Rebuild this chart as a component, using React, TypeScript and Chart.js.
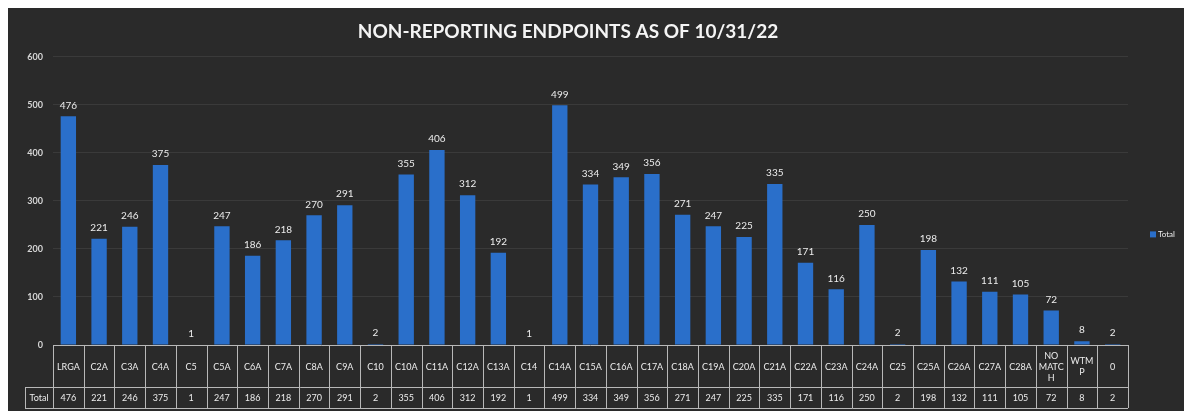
import React, { useEffect, useRef } from 'react';
import { Chart, registerables } from 'chart.js';

Chart.register(...registerables);

const chartTitle = 'NON-REPORTING ENDPOINTS AS OF 10/31/22';
const seriesName = 'Total';
const categories = [
  'LRGA', 'C2A', 'C3A', 'C4A', 'C5', 'C5A', 'C6A', 'C7A', 'C8A', 'C9A',
  'C10', 'C10A', 'C11A', 'C12A', 'C13A', 'C14', 'C14A', 'C15A', 'C16A', 'C17A',
  'C18A', 'C19A', 'C20A', 'C21A', 'C22A', 'C23A', 'C24A', 'C25', 'C25A', 'C26A',
  'C27A', 'C28A', 'NO MATCH', 'WTMP', '0',
];
const totals = [
  476, 221, 246, 375, 1, 247, 186, 218, 270, 291,
  2, 355, 406, 312, 192, 1, 499, 334, 349, 356,
  271, 247, 225, 335, 171, 116, 250, 2, 198, 132,
  111, 105, 72, 8, 2,
];
const yMin = 0;
const yMax = 600;
const yStep = 100;
// how the table header wraps long category names
const headerWraps: Record<string, string[]> = {
  'NO MATCH': ['NO', 'MATC', 'H'],
  WTMP: ['WTM', 'P'],
};

const BG = '#2a2a2a';
const BAR = '#2a6fca';
const TEXT = '#ececec';
const LINE = '#b8b8b8';
const FONT = 'Lato, "Open Sans", sans-serif';

const tablePlugin = {
  id: 'tableAndLabels',
  beforeDraw(chart: any) {
    const ctx = chart.ctx;
    ctx.save();
    ctx.fillStyle = BG;
    ctx.fillRect(0, 0, chart.width, chart.height);
    ctx.restore();
  },
  afterDatasetsDraw(chart: any) {
    const ctx = chart.ctx;
    const area = chart.chartArea;
    const xs = chart.scales.x;
    const meta = chart.getDatasetMeta(0);
    ctx.save();

    // data labels
    ctx.fillStyle = TEXT;
    ctx.font = `10px ${FONT}`;
    ctx.textAlign = 'center';
    ctx.textBaseline = 'bottom';
    meta.data.forEach((bar: any, i: number) => {
      ctx.fillText(String(totals[i]), bar.x, bar.y - 6);
    });

    // data table
    const n = categories.length;
    const colW = (area.right - area.left) / n;
    const top = area.bottom;
    const mid = top + 42;
    const bottom = mid + 21;
    const totalLeft = area.left - 28;
    ctx.strokeStyle = LINE;
    ctx.lineWidth = 1;
    ctx.beginPath();
    ctx.moveTo(area.left, top + 0.5);
    ctx.lineTo(area.right, top + 0.5);
    ctx.moveTo(totalLeft, mid + 0.5);
    ctx.lineTo(area.right, mid + 0.5);
    ctx.moveTo(totalLeft, bottom + 0.5);
    ctx.lineTo(area.right, bottom + 0.5);
    ctx.moveTo(totalLeft + 0.5, mid);
    ctx.lineTo(totalLeft + 0.5, bottom);
    for (let i = 0; i <= n; i++) {
      const x = Math.round(xs.getPixelForValue(Math.min(i, n - 1)) + (i === n ? colW / 2 : -colW / 2)) + 0.5;
      ctx.moveTo(x, top);
      ctx.lineTo(x, bottom);
    }
    ctx.stroke();

    ctx.fillStyle = TEXT;
    ctx.textBaseline = 'middle';
    ctx.font = `9px ${FONT}`;
    ctx.fillText(seriesName, (totalLeft + area.left) / 2, (mid + bottom) / 2 + 1);
    categories.forEach((c, i) => {
      const cx = xs.getPixelForValue(i);
      const lines = headerWraps[c] || [c];
      const lh = 11;
      const y0 = (top + mid) / 2 - ((lines.length - 1) * lh) / 2 + 1;
      ctx.font = `9px ${FONT}`;
      lines.forEach((l, k) => ctx.fillText(l, cx, y0 + k * lh));
      ctx.fillText(String(totals[i]), cx, (mid + bottom) / 2 + 1);
    });

    // legend
    const ly = (area.top + bottom) / 2 + 2;
    const lx = area.right + 22;
    ctx.fillStyle = BAR;
    ctx.fillRect(lx, ly - 3, 6, 6);
    ctx.fillStyle = TEXT;
    ctx.textAlign = 'left';
    ctx.font = `8px ${FONT}`;
    ctx.fillText(seriesName, lx + 8, ly);

    ctx.restore();
  },
};

export default function App() {
  const ref = useRef<HTMLCanvasElement | null>(null);
  useEffect(() => {
    if (!ref.current) return;
    const chart = new Chart(ref.current, {
      type: 'bar',
      data: {
        labels: categories,
        datasets: [
          {
            label: seriesName,
            data: totals,
            backgroundColor: BAR,
            barPercentage: 0.5,
            categoryPercentage: 1,
          },
        ],
      },
      options: {
        responsive: false,
        animation: false,
        devicePixelRatio: 1,
        layout: { padding: { left: 0, right: 56, top: 0, bottom: 66 } },
        plugins: {
          legend: { display: false },
          tooltip: { enabled: false },
          title: {
            display: true,
            text: chartTitle,
            color: '#f4f4f4',
            font: { family: FONT, size: 19, weight: 'bold' },
            padding: { top: 12, bottom: 14 },
          },
        },
        scales: {
          x: { display: false },
          y: {
            min: yMin,
            max: yMax,
            ticks: {
              stepSize: yStep,
              color: '#d6d6d6',
              font: { family: FONT, size: 9, weight: 'bold' },
              padding: 10,
            },
            grid: { color: 'rgba(255,255,255,0.08)', drawTicks: false },
            border: { display: false },
            afterFit: (s: any) => {
              s.width = 45;
            },
          },
        },
      },
      plugins: [tablePlugin],
    } as any);
    return () => chart.destroy();
  }, []);
  return (
    <div style={{ position: 'fixed', left: 8, top: 8, width: 1176, height: 403 }}>
      <canvas ref={ref} width={1176} height={403} style={{ display: 'block' }} />
    </div>
  );
}
